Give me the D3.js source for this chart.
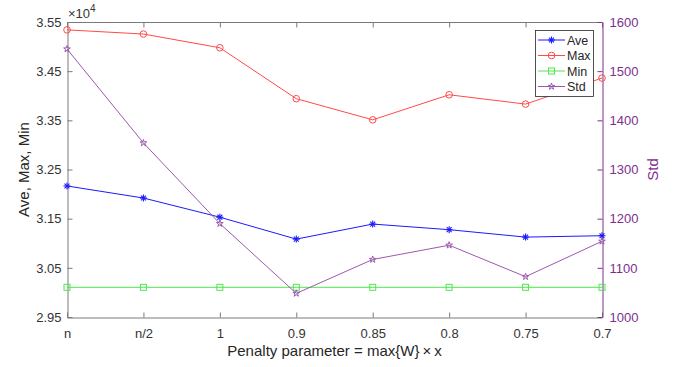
<!DOCTYPE html>
<html>
<head>
<meta charset="utf-8">
<script src="https://cdn.jsdelivr.net/npm/d3@7"></script>
<style>
  html, body { margin: 0; padding: 0; background: #fff; }
  svg { display: block; font-family: "Liberation Sans", Arial, sans-serif; }
</style>
</head>
<body>
<svg id="chart" width="675" height="367"></svg>
<script>
// Penalty-parameter settings along the x axis
const categories = ["n", "n/2", "1", "0.9", "0.85", "0.8", "0.75", "0.7"];

// Objective statistics (units of 10^4) on the left axis
const aveValues = [3.2165, 3.192, 3.153, 3.1084, 3.139, 3.1276, 3.1125, 3.1153];
const maxValues = [3.534, 3.5255, 3.4976, 3.394, 3.351, 3.402, 3.383, 3.436];
const minValues = [3.0104, 3.0104, 3.0104, 3.0104, 3.0104, 3.0104, 3.0104, 3.0104];

// Standard deviation on the right axis
const stdValues = [1545, 1354, 1190, 1048, 1117, 1146, 1082, 1154];

// Tick labels
const leftTicks = [2.95, 3.05, 3.15, 3.25, 3.35, 3.45, 3.55];
const rightTicks = [1000, 1100, 1200, 1300, 1400, 1500, 1600];

const svg = d3.select("#chart");
const m = { left: 67, right: 602, top: 22, bottom: 317 };

const x = d3.scalePoint().domain(categories).range([m.left, m.right]);
const yL = d3.scaleLinear().domain([2.95, 3.55]).range([m.bottom, m.top]);
const yR = d3.scaleLinear().domain([1000, 1600]).range([m.bottom, m.top]);

const boxGray = "#7a7a7a";
const textGray = "#333";
const purple = "#7E2F8E";
const FONT = "Liberation Sans, Arial, sans-serif";

function styleTicks(g, color) {
  g.attr("font-family", FONT).attr("font-size", 13);
  g.selectAll(".tick text").attr("fill", color);
}

// Plot box (top edge)
svg.append("line")
  .attr("x1", m.left).attr("x2", m.right)
  .attr("y1", m.top + 0.5).attr("y2", m.top + 0.5)
  .attr("stroke", boxGray).attr("stroke-width", 1);

// Bottom x axis with inward ticks
const xAxis = svg.append("g")
  .attr("transform", `translate(0,${m.bottom + 0.5})`)
  .call(d3.axisBottom(x).tickSizeInner(-5).tickSizeOuter(0).tickPadding(11));
xAxis.select(".domain").attr("stroke", boxGray);
xAxis.selectAll(".tick line").attr("stroke", boxGray);
styleTicks(xAxis, textGray);

// Mirror ticks on the top edge
svg.append("g")
  .attr("transform", `translate(0,${m.top + 0.5})`)
  .call(d3.axisTop(x).tickSizeInner(-5).tickSizeOuter(0).tickFormat(""))
  .call(g => g.select(".domain").remove())
  .call(g => g.selectAll(".tick line").attr("stroke", boxGray));

// Left axis
const leftAxis = svg.append("g")
  .attr("transform", `translate(${m.left + 0.5},0)`)
  .call(d3.axisLeft(yL).tickValues(leftTicks).tickFormat(d3.format(".2f"))
    .tickSizeInner(-5).tickSizeOuter(0).tickPadding(6));
leftAxis.select(".domain").attr("stroke", boxGray);
leftAxis.selectAll(".tick line").attr("stroke", boxGray);
styleTicks(leftAxis, textGray);

// Right axis (Std)
const rightAxis = svg.append("g")
  .attr("transform", `translate(${m.right + 0.5},0)`)
  .call(d3.axisRight(yR).tickValues(rightTicks).tickFormat(d3.format("d"))
    .tickSizeInner(-5).tickSizeOuter(0).tickPadding(7));
rightAxis.select(".domain").attr("stroke", purple);
rightAxis.selectAll(".tick line").attr("stroke", purple);
styleTicks(rightAxis, purple);

// Exponent marker above the left axis
const expo = svg.append("text")
  .attr("x", m.left + 1).attr("y", 18)
  .attr("font-family", FONT).attr("font-size", 13).attr("fill", textGray);
expo.append("tspan").text("\u00d710");
expo.append("tspan").attr("dy", -6).attr("font-size", 10).text("4");

// Axis titles
svg.append("text")
  .attr("transform", `translate(29,${(m.top + m.bottom) / 2}) rotate(-90)`)
  .attr("text-anchor", "middle").attr("font-family", FONT)
  .attr("font-size", 15).attr("fill", "#262626")
  .text("Ave, Max, Min");

svg.append("text")
  .attr("transform", `translate(658,${(m.top + m.bottom) / 2}) rotate(-90)`)
  .attr("text-anchor", "middle").attr("font-family", FONT)
  .attr("font-size", 15).attr("fill", purple)
  .text("Std");

svg.append("text")
  .attr("x", (m.left + m.right) / 2).attr("y", 356)
  .attr("text-anchor", "middle").attr("font-family", FONT)
  .attr("font-size", 15).attr("fill", "#262626")
  .text("Penalty parameter = max{W}\u2009\u00d7\u2009x");

// Marker shapes
const star5 = d3.symbol().type(d3.symbolStar).size(14);
function drawMarker(g, kind, color, cx, cy) {
  if (kind === "asterisk") {
    const r = 3.5;
    const a = g.append("g").attr("transform", `translate(${cx},${cy})`)
      .attr("stroke", color).attr("stroke-width", 1.1);
    a.append("line").attr("x1", -r).attr("x2", r).attr("y1", 0).attr("y2", 0);
    a.append("line").attr("x1", 0).attr("x2", 0).attr("y1", -r).attr("y2", r);
    a.append("line").attr("x1", -r * 0.7).attr("x2", r * 0.7).attr("y1", -r * 0.7).attr("y2", r * 0.7);
    a.append("line").attr("x1", -r * 0.7).attr("x2", r * 0.7).attr("y1", r * 0.7).attr("y2", -r * 0.7);
  } else if (kind === "circle") {
    g.append("circle").attr("cx", cx).attr("cy", cy).attr("r", 3.3)
      .attr("fill", "none").attr("stroke", color).attr("stroke-width", 1);
  } else if (kind === "square") {
    g.append("rect").attr("x", cx - 3).attr("y", cy - 3).attr("width", 6).attr("height", 6)
      .attr("fill", "none").attr("stroke", color).attr("stroke-width", 1);
  } else if (kind === "star") {
    g.append("path").attr("d", star5).attr("transform", `translate(${cx},${cy})`)
      .attr("fill", "none").attr("stroke", color).attr("stroke-width", 1);
  }
}

const series = [
  { name: "Ave", values: aveValues, scale: yL, color: "#1a1aff", marker: "asterisk" },
  { name: "Max", values: maxValues, scale: yL, color: "#ff4a4a", marker: "circle" },
  { name: "Min", values: minValues, scale: yL, color: "#4ee84e", marker: "square" },
  { name: "Std", values: stdValues, scale: yR, color: "#9b59ad", marker: "star" }
];

const plot = svg.append("g");
series.forEach(s => {
  const line = d3.line().x((d, i) => x(categories[i])).y(d => s.scale(d));
  plot.append("path").datum(s.values)
    .attr("d", line).attr("fill", "none")
    .attr("stroke", s.color).attr("stroke-width", 1);
  s.values.forEach((v, i) => drawMarker(plot, s.marker, s.color, x(categories[i]), s.scale(v)));
});

// Legend
const lg = svg.append("g");
lg.append("rect").attr("x", 535.5).attr("y", 30.5).attr("width", 58).attr("height", 66)
  .attr("fill", "#fff").attr("stroke", "#262626").attr("stroke-width", 0.8);
series.forEach((s, i) => {
  const yy = 40 + i * 15.5;
  lg.append("line").attr("x1", 538).attr("x2", 565).attr("y1", yy).attr("y2", yy)
    .attr("stroke", s.color).attr("stroke-width", 1);
  drawMarker(lg, s.marker, s.color, 551.5, yy);
  lg.append("text").attr("x", 567).attr("y", yy + 4.5)
    .attr("font-family", FONT).attr("font-size", 12.5).attr("fill", "#262626").text(s.name);
});
</script>
</body>
</html>
